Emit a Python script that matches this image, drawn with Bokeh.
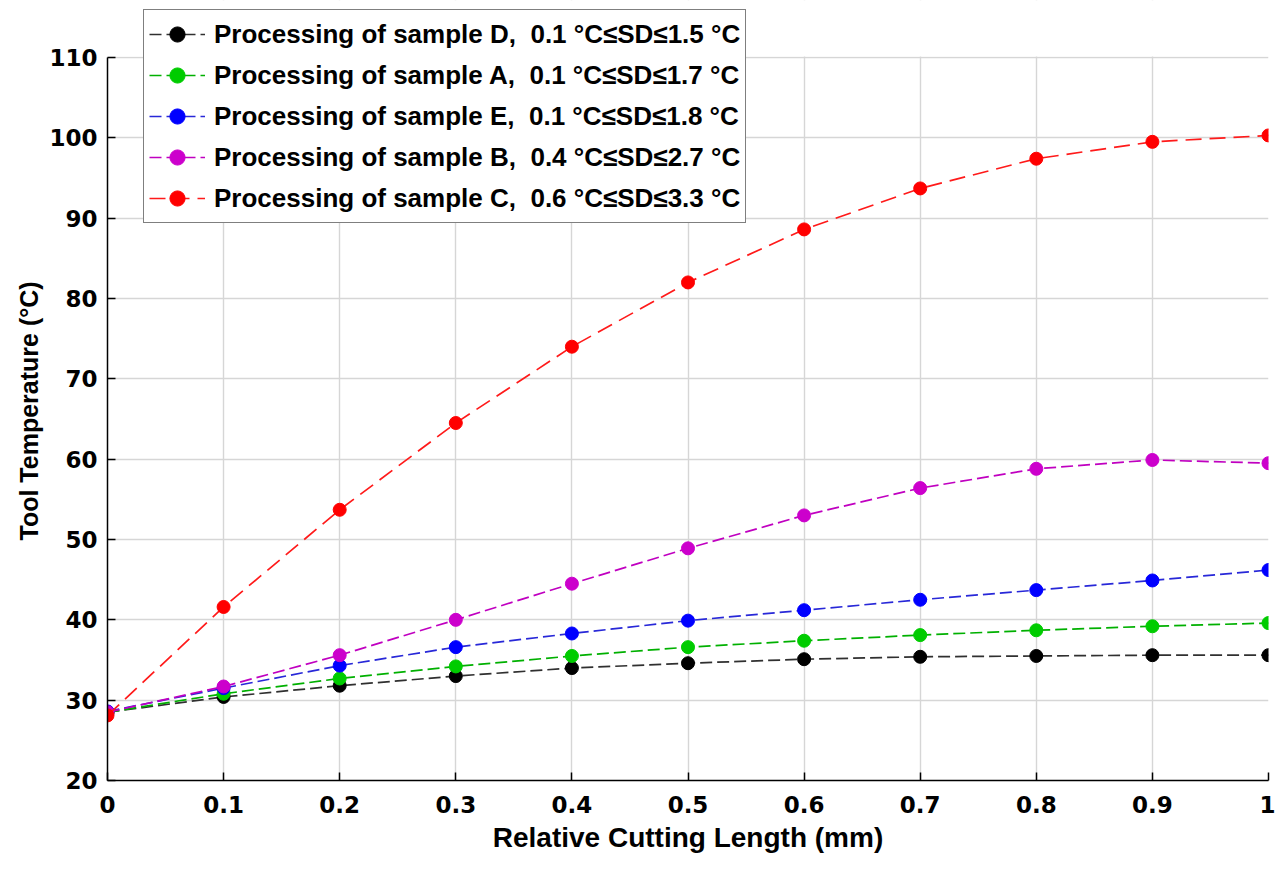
from bokeh.plotting import figure
from bokeh.models import FixedTicker, Legend, LegendItem, Range1d, BoxAnnotation, Title
from bokeh.embed import file_html
from bokeh.resources import INLINE

x_vals = [0, 0.1, 0.2, 0.3, 0.4, 0.5, 0.6, 0.7, 0.8, 0.9, 1.0]
x_ticks = [0, 0.1, 0.2, 0.3, 0.4, 0.5, 0.6, 0.7, 0.8, 0.9, 1]
x_tick_labels = ["0", "0.1", "0.2", "0.3", "0.4", "0.5", "0.6", "0.7", "0.8", "0.9", "1"]
y_ticks = [20, 30, 40, 50, 60, 70, 80, 90, 100, 110]
y_min, y_max = 20, 110

sample_D = [28.5, 30.4, 31.8, 33.0, 34.0, 34.6, 35.1, 35.4, 35.5, 35.6, 35.6]
sample_A = [28.5, 30.8, 32.7, 34.2, 35.5, 36.6, 37.4, 38.1, 38.7, 39.2, 39.6]
sample_E = [28.6, 31.5, 34.3, 36.6, 38.3, 39.9, 41.2, 42.5, 43.7, 44.9, 46.2]
sample_B = [28.5, 31.7, 35.6, 40.0, 44.5, 48.9, 53.0, 56.4, 58.8, 59.9, 59.5]
sample_C = [28.1, 41.6, 53.7, 64.5, 74.0, 82.0, 88.6, 93.7, 97.4, 99.5, 100.3]

labels = [
    "Processing of sample D,  0.1 \u00b0C\u2264SD\u22641.5 \u00b0C",
    "Processing of sample A,  0.1 \u00b0C\u2264SD\u22641.7 \u00b0C",
    "Processing of sample E,  0.1 \u00b0C\u2264SD\u22641.8 \u00b0C",
    "Processing of sample B,  0.4 \u00b0C\u2264SD\u22642.7 \u00b0C",
    "Processing of sample C,  0.6 \u00b0C\u2264SD\u22643.3 \u00b0C",
]
series = [sample_D, sample_A, sample_E, sample_B, sample_C]
marker_colors = ["#000000", "#00cc00", "#0000ff", "#cc00cc", "#ff0000"]
line_colors = ["#303030", "#00b000", "#2828d8", "#c000c0", "#ff1a1a"]
dashes = ["12 5", "12 5", "12 5", "12 5", "16 8"]

# frame: bottom at 780px, 723px for the 20..110 span; extended up to the top edge
frame_h = 780
plot_span_px = 723
y_top = y_min + (y_max - y_min) * frame_h / plot_span_px

p = figure(width=1275, height=862, output_backend="svg", toolbar_location=None,
           x_range=Range1d(0, 1), y_range=Range1d(y_min, y_top),
           min_border_left=107, min_border_top=0, min_border_right=7, min_border_bottom=82)
p.outline_line_color = None
p.background_fill_color = "white"

for ax in (p.xaxis[0], p.yaxis[0]):
    ax.axis_line_color = "black"
    ax.axis_line_width = 1.5
    ax.major_tick_in = 8
    ax.major_tick_out = 0
    ax.minor_tick_line_color = None
    ax.major_tick_line_color = "black"
    ax.major_tick_line_width = 1.5
    ax.major_label_text_font = "DejaVu Sans"
    ax.major_label_text_font_style = "bold"
    ax.major_label_text_font_size = "23px"
    ax.major_label_text_color = "black"
    ax.axis_label_text_font = "Liberation Sans"
    ax.axis_label_text_font_style = "bold"
    ax.axis_label_text_color = "black"

p.yaxis.bounds = (y_min, y_max)
p.xaxis.ticker = FixedTicker(ticks=x_ticks)
p.xaxis.major_label_overrides = {t: l for t, l in zip(x_ticks, x_tick_labels)}
p.yaxis.ticker = FixedTicker(ticks=y_ticks)
p.xaxis.axis_label = "Relative Cutting Length (mm)"
p.xaxis.axis_label_text_font_size = "28px"
p.xaxis.major_label_standoff = 15
p.yaxis.major_label_standoff = 10
p.xaxis.axis_label_standoff = 6

# y-axis title, centred on the 20..110 part of the axis
ytitle = Title(text="Tool Temperature (\u00b0C)", align="left", offset=240,
               text_font="Liberation Sans", text_font_style="bold",
               text_font_size="25px", text_color="black", standoff=8)
p.add_layout(ytitle, "left")

p.xgrid.ticker = FixedTicker(ticks=x_ticks)
p.ygrid.ticker = FixedTicker(ticks=y_ticks)
for g in (p.xgrid[0], p.ygrid[0]):
    g.grid_line_color = "#d6d6d6"
    g.grid_line_width = 1.4

# blank the area above the top of the axes box
p.add_layout(BoxAnnotation(bottom=y_max + 0.12, fill_color="white", fill_alpha=1.0,
                           line_color=None, level="underlay"))

items = []
for ys, lab, mc, lc, d in zip(series, labels, marker_colors, line_colors, dashes):
    r1 = p.line(x_vals, ys, line_color=lc, line_width=1.7, line_dash=d)
    r2 = p.scatter(x_vals, ys, size=13, fill_color=mc, line_color=mc)
    items.append(LegendItem(label=lab, renderers=[r1, r2]))

legend = Legend(items=items, location=(36, 557))
legend.label_text_font = "Liberation Sans"
legend.label_text_font_style = "bold"
legend.label_text_font_size = "26px"
legend.label_text_color = "black"
legend.glyph_width = 56
legend.glyph_height = 38
legend.spacing = 3
legend.padding = 5
legend.label_standoff = 9
legend.border_line_color = "black"
legend.border_line_width = 1.5
legend.background_fill_alpha = 1.0
p.add_layout(legend, "center")

open("out.html", "w").write(file_html(p, INLINE))
